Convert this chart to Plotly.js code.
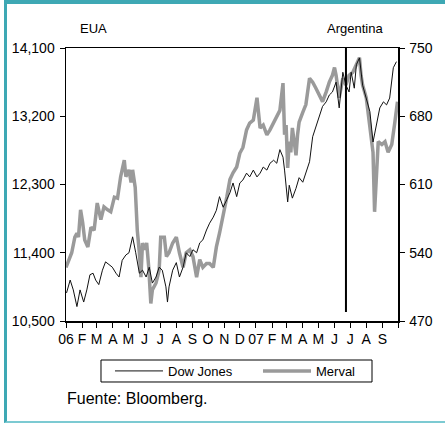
<!DOCTYPE html>
<html>
<head>
<meta charset="utf-8">
<script src="https://cdn.plot.ly/plotly-3.0.1.min.js"></script>
<style>
  html, body { margin: 0; padding: 0; background: #fff; }
  #frame { position: absolute; left: 4px; top: 0; width: 441px; height: 423px; box-sizing: border-box;
           border-top: 4px solid #3ea8b4; border-left: 3px solid #3ea8b4; border-bottom: 2px solid #7ccad2; }
  #chart { position: absolute; left: 0; top: 0; width: 445px; height: 423px; }
</style>
</head>
<body>
<div id="frame"></div>
<div id="chart"></div>
<script>
// Month tick labels (Jan 2006 .. Oct 2007)
const tickLabels = ['06','F','M','A','M','J','J','A','S','O','N','D','07','F','M','A','M','J','J','A','S',''];

// Dow Jones (left axis)
const dowDates = ['2006-01-02','2006-01-09','2006-01-15','2006-01-22','2006-01-28','2006-02-04','2006-02-10','2006-02-16','2006-02-22','2006-02-27',
 '2006-03-05','2006-03-12','2006-03-18','2006-03-25','2006-03-31','2006-04-07','2006-04-13','2006-04-19','2006-04-26','2006-05-02',
 '2006-05-09','2006-05-15','2006-05-22','2006-05-28','2006-06-04','2006-06-10','2006-06-16','2006-06-23','2006-06-29','2006-07-05',
 '2006-07-12','2006-07-15','2006-07-18','2006-07-25','2006-08-01','2006-08-07','2006-08-14','2006-08-20','2006-08-27','2006-09-02',
 '2006-09-09','2006-09-15','2006-09-21','2006-09-28','2006-10-04','2006-10-11','2006-10-17','2006-10-23','2006-10-30','2006-11-06',
 '2006-11-12','2006-11-18','2006-11-25','2006-12-01','2006-12-07','2006-12-14','2006-12-20','2006-12-27','2007-01-03','2007-01-09',
 '2007-01-15','2007-01-22','2007-01-28','2007-02-04','2007-02-10','2007-02-16','2007-02-22','2007-02-25','2007-02-28','2007-03-03',
 '2007-03-06','2007-03-12','2007-03-19','2007-03-25','2007-04-01','2007-04-07','2007-04-14','2007-04-20','2007-04-26','2007-05-03',
 '2007-05-09','2007-05-16','2007-05-22','2007-05-28','2007-06-04','2007-06-10','2007-06-17','2007-06-23','2007-06-29','2007-07-03',
 '2007-07-09','2007-07-13','2007-07-19','2007-07-25','2007-08-01','2007-08-08','2007-08-14','2007-08-21','2007-08-27','2007-09-03',
 '2007-09-09','2007-09-15','2007-09-22','2007-09-28'];
const dowValues = [10870,11040,10910,10690,10910,10750,10910,11110,11130,11040,
 10980,11170,11280,11240,11210,11130,11080,11300,11370,11400,
 11610,11400,11130,11170,11080,11210,11000,11080,11210,11170,
 10950,10750,10950,11170,11270,11080,11210,11400,11350,11440,
 11400,11530,11570,11700,11790,11870,11960,12140,12000,12100,
 12190,12320,12140,12320,12360,12450,12400,12490,12400,12450,
 12530,12490,12580,12620,12580,12760,12660,12490,12240,12070,
 12290,12120,12250,12390,12330,12470,12600,12930,13050,13180,
 13330,13390,13480,13520,13650,13310,13780,13610,13520,13780,
 13570,13880,13970,13610,13440,13260,12860,13120,13310,13390,
 13350,13440,13840,13920];

// Merval (right axis)
const mervalDates = ['2006-01-01','2006-01-06','2006-01-12','2006-01-18','2006-01-22','2006-01-25','2006-01-29','2006-02-02','2006-02-06','2006-02-12',
 '2006-02-18','2006-02-24','2006-03-02','2006-03-09','2006-03-15','2006-03-22','2006-03-28','2006-04-04','2006-04-10','2006-04-16',
 '2006-04-23','2006-04-26','2006-05-02','2006-05-06','2006-05-09','2006-05-14','2006-05-18','2006-05-22','2006-05-25','2006-05-28',
 '2006-06-01','2006-06-05','2006-06-09','2006-06-13','2006-06-16','2006-06-23','2006-06-29','2006-07-02','2006-07-09','2006-07-13',
 '2006-07-18','2006-07-25','2006-08-01','2006-08-07','2006-08-14','2006-08-20','2006-08-27','2006-09-02','2006-09-09','2006-09-15',
 '2006-09-21','2006-09-28','2006-10-04','2006-10-11','2006-10-17','2006-10-23','2006-10-30','2006-11-06','2006-11-12','2006-11-18',
 '2006-11-25','2006-12-01','2006-12-07','2006-12-14','2006-12-20','2006-12-27','2007-01-03','2007-01-09','2007-01-15','2007-01-22',
 '2007-01-28','2007-02-04','2007-02-10','2007-02-16','2007-02-22','2007-02-25','2007-02-28','2007-03-03','2007-03-06','2007-03-09',
 '2007-03-12','2007-03-19','2007-03-22','2007-03-25','2007-04-01','2007-04-07','2007-04-14','2007-04-20','2007-04-26','2007-05-03',
 '2007-05-09','2007-05-16','2007-05-22','2007-05-28','2007-06-01','2007-06-04','2007-06-10','2007-06-17','2007-06-23','2007-06-29',
 '2007-07-06','2007-07-13','2007-07-19','2007-07-22','2007-07-25','2007-08-01','2007-08-08','2007-08-11','2007-08-14','2007-08-17',
 '2007-08-21','2007-08-24','2007-08-31','2007-09-06','2007-09-12','2007-09-19','2007-09-25','2007-09-30'];
const mervalValues = [525,531,540,556,560,556,584,571,553,546,
 566,563,591,574,587,584,582,597,596,618,
 635,618,625,612,625,607,563,540,515,550,
 543,550,525,488,502,509,522,556,556,536,
 540,550,556,540,525,540,543,536,515,533,
 525,529,529,525,546,560,577,597,615,622,
 628,642,648,666,673,676,699,668,671,661,
 666,673,679,686,714,661,671,627,654,643,
 668,640,661,674,684,692,719,715,709,702,
 695,705,715,722,730,722,699,719,712,722,
 725,733,740,722,712,699,671,654,643,582,
 623,654,651,654,643,651,674,695];

const dowTicks = [10500,11400,12300,13200,14100];
const mervalTicks = [470,540,610,680,750];
const markerDate = '2007-06-23';

const monthTicks = tickLabels.map((_, i) => {
  const d = new Date(Date.UTC(2006, i, 1));
  return d.toISOString().slice(0,10);
});

const FONT = 'Liberation Sans, Arial, sans-serif';

const data = [
  { x: dowDates, y: dowValues, name: 'Dow Jones', type: 'scatter', mode: 'lines',
    yaxis: 'y2', line: { color: '#111111', width: 1 } },
  { x: mervalDates, y: mervalValues, name: 'Merval', type: 'scatter', mode: 'lines',
    yaxis: 'y', line: { color: '#9a9a9a', width: 3.5 } }
];

const layout = {
  width: 445, height: 423,
  margin: { l: 66, r: 47, t: 48, b: 102, autoexpand: false },
  paper_bgcolor: 'rgba(0,0,0,0)', plot_bgcolor: '#fff',
  font: { family: FONT, size: 14, color: '#000' },
  showlegend: true,
  xaxis: {
    type: 'date', range: ['2006-01-01','2007-10-01'],
    tickmode: 'array', tickvals: monthTicks, ticktext: tickLabels,
    ticks: 'outside', ticklen: 5, tickwidth: 1, tickcolor: '#000',
    showline: true, linecolor: '#000', linewidth: 1.5, mirror: true,
    showgrid: false, zeroline: false, tickfont: { size: 14 }
  },
  xaxis2: {
    type: 'date', overlaying: 'x', anchor: 'y', matches: 'x', range: ['2006-01-01','2007-10-01'],
    tickmode: 'array', tickvals: monthTicks, ticks: 'inside', ticklen: 3, tickwidth: 1, tickcolor: '#000',
    showticklabels: false, showline: false, showgrid: false, zeroline: false
  },
  yaxis: {
    side: 'right', range: [470, 750], tickmode: 'array', tickvals: mervalTicks,
    ticks: 'outside', ticklen: 5, tickcolor: '#000', showline: true, linecolor: '#000', linewidth: 1.5,
    showgrid: false, zeroline: false, tickfont: { size: 14 }, ticklabelstandoff: 2
  },
  yaxis2: {
    side: 'left', overlaying: 'y', range: [10500, 14100], tickmode: 'array', tickvals: dowTicks,
    tickformat: ',d', ticks: 'outside', ticklen: 5, tickcolor: '#000', showline: true, linecolor: '#000', linewidth: 1.5,
    showgrid: false, zeroline: false, tickfont: { size: 14 }, ticklabelstandoff: 2
  },
  legend: {
    orientation: 'h', x: 0.1325, xanchor: 'left', y: -0.183, yanchor: 'middle',
    borderwidth: 0, bgcolor: 'rgba(0,0,0,0)', font: { size: 13 },
    itemwidth: 48, entrywidth: 85, entrywidthmode: 'pixels', traceorder: 'normal'
  },
  shapes: [
    { type: 'line', xref: 'x', yref: 'paper', x0: markerDate, x1: markerDate, y0: 0.033, y1: 1,
      line: { color: '#000', width: 2 } },
    { type: 'rect', xref: 'paper', yref: 'paper', x0: 0.1054, x1: 0.9217, y0: -0.2234, y1: -0.1429,
      line: { color: '#000', width: 1 }, fillcolor: 'rgba(0,0,0,0)' }
  ],
  annotations: [
    { text: 'EUA', xref: 'paper', yref: 'paper', x: 0.082, y: 1.07, xanchor: 'center', yanchor: 'middle',
      showarrow: false, font: { size: 13 } },
    { text: 'Argentina', xref: 'paper', yref: 'paper', x: 0.87, y: 1.07, xanchor: 'center', yanchor: 'middle',
      showarrow: false, font: { size: 13 } },
    { text: 'Fuente: Bloomberg.', xref: 'paper', yref: 'paper', x: -0.004, y: -0.283, xanchor: 'left', yanchor: 'middle',
      showarrow: false, font: { size: 16 } }
  ]
};

Plotly.newPlot('chart', data, layout, { displayModeBar: false, staticPlot: true });
</script>
</body>
</html>
